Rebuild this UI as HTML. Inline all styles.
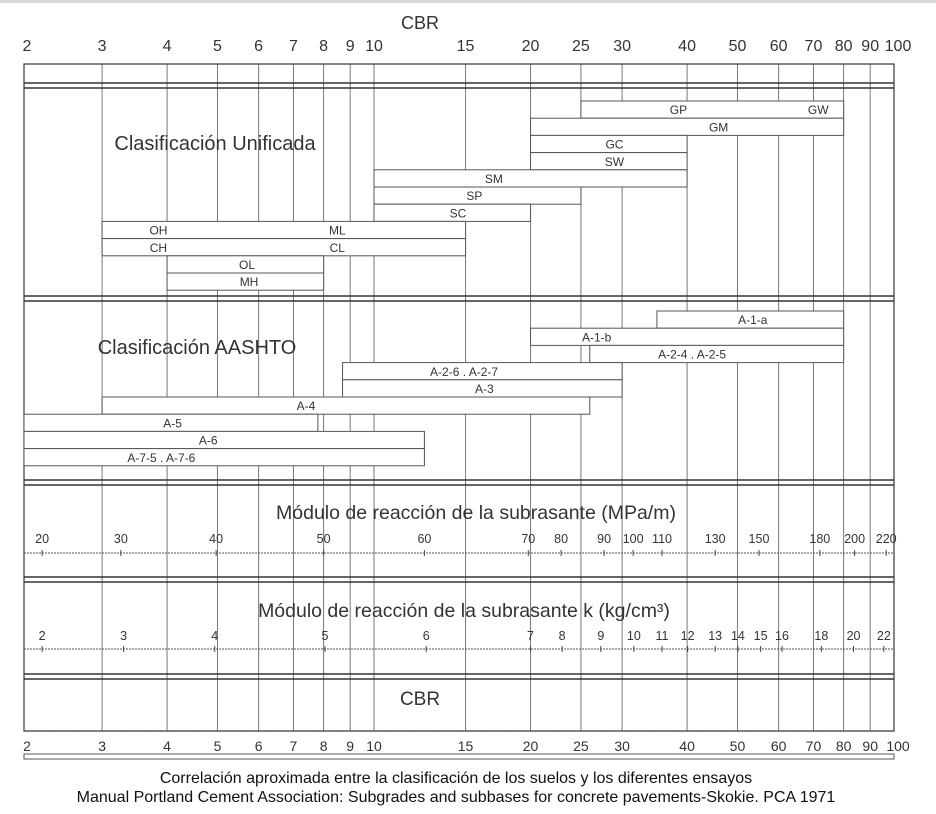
<!DOCTYPE html>
<html><head><meta charset="utf-8">
<style>
html,body{margin:0;padding:0;background:#fff;}
svg{display:block;font-family:"Liberation Sans",sans-serif;}
</style></head>
<body>
<svg id="chart" width="936" height="814" viewBox="0 0 936 814" xmlns="http://www.w3.org/2000/svg">
<rect x="0" y="0" width="936" height="3" fill="#d8d8d8"/>
<g id="grid"></g>
<g id="bars"></g>
<g id="axes"></g>
<g id="texts"></g>
</svg>
<script>
// ---- data ----
const cbrTicks = [3,4,5,6,7,8,9,10,15,20,25,30,40,50,60,70,80,90];
const cbrLabels = ["2","3","4","5","6","7","8","9","10","15","20","25","30","40","50","60","70","80","90","100"];
const cbrLabelValues = [2,3,4,5,6,7,8,9,10,15,20,25,30,40,50,60,70,80,90,100];

const unifiedNames = ["GP/GW","GM","GC","SW","SM","SP","SC","OH/ML","CH/CL","OL","MH"];
const unifiedStart = [25,20,20,20,10,10,10,3,3,4,4];
const unifiedEnd   = [80,80,40,40,40,25,20,15,15,8,8];
const unifiedLabels = [["GP",38.5,"GW",71.5],["GM",46],["GC",29],["SW",29],["SM",17],["SP",15.6],["SC",14.5],["OH",3.85,"ML",8.5],["CH",3.85,"CL",8.5],["OL",5.7],["MH",5.75]];

const aashtoNames = ["A-1-a","A-1-b","A-2-4 . A-2-5","A-2-6 . A-2-7","A-3","A-4","A-5","A-6","A-7-5 . A-7-6"];
const aashtoStart = [35,20,26,8.7,8.7,3,2,2,2];
const aashtoEnd   = [80,80,80,30,30,26,7.8,12.5,12.5];
const aashtoLabelAt = [53.5,26.8,40.9,14.9,16.3,7.4,4.1,4.8,3.9];

const mpaLabels = ["20","30","40","50","60","70","80","90","100","110","130","150","180","200","220"];
const mpaCbr = [2.3,3.26,4.97,8.0,12.5,19.8,22.9,27.7,31.5,35.8,45.3,55,72,84,96.6];
const kLabels = ["2","3","4","5","6","7","8","9","10","11","12","13","14","15","16","18","20","22"];
const kCbr = [2.3,3.3,4.94,8.05,12.6,20,23,27.3,31.6,35.8,40.1,45.3,50.1,55.4,60.9,72.5,83.6,95.6];

// ---- layout ----
const L = 24, R = 894, TOP = 64, BOT = 731;
function xs(v){ if (v<=2) return L; return 374 + (Math.log10(v)-1)*520; }
const NS = "http://www.w3.org/2000/svg";
function mk(tag, attrs, parent){ const e=document.createElementNS(NS,tag); for(const k in attrs) e.setAttribute(k,attrs[k]); document.getElementById(parent).appendChild(e); return e; }
function txt(parent, x, y, s, size, anchor, fill){ const t=mk("text",{x:x,y:y,"font-size":size,"text-anchor":anchor||"middle",fill:fill||"#333"},parent); t.textContent=s; return t; }

cbrTicks.forEach(v=>{
  const l = mk("line",{x1:xs(v),x2:xs(v),y1:TOP,y2:BOT,stroke:"#777","stroke-width":1},"grid");
  
  
});
let fr = mk("rect",{x:L,y:TOP,width:R-L,height:BOT-TOP,fill:"none",stroke:"#444","stroke-width":1.3},"grid");


[[83,88],[296,301],[480,485],[577,582],[674,679]].forEach((p,i)=>{
  p.forEach(y=>{
    const l = mk("line",{x1:L,x2:R,y1:y,y2:y,stroke:"#333","stroke-width":1.6},"grid");
    
    
  });
});
let sb = mk("rect",{x:L,y:754,width:R-L,height:5,fill:"#fff",stroke:"#555","stroke-width":1},"grid");



const unifiedTop = 101, rowH = 17.2;
function drawBar(name, a, b, y, h, labels){
  const g = mk("g",{},"bars");
  
  
  const x1 = xs(a), x2 = xs(b);
  const r = document.createElementNS(NS,"rect");
  r.setAttribute("x",x1); r.setAttribute("y",y); r.setAttribute("width",x2-x1); r.setAttribute("height",h);
  r.setAttribute("fill","#fff"); r.setAttribute("stroke","#555"); r.setAttribute("stroke-width","1");
  g.appendChild(r);
  for(let i=0;i<labels.length;i+=2){
    const t = document.createElementNS(NS,"text");
    t.setAttribute("x",xs(labels[i+1])); t.setAttribute("y",y+h-4); t.setAttribute("font-size","12");
    t.setAttribute("text-anchor","middle"); t.setAttribute("fill","#333");
    t.textContent = labels[i];
    g.appendChild(t);
  }
}
unifiedNames.forEach((n,i)=>{
  drawBar(n, unifiedStart[i], unifiedEnd[i], unifiedTop + i*rowH, rowH, unifiedLabels[i]);
});
const aTop = 311;
aashtoNames.forEach((n,i)=>{
  drawBar(n, aashtoStart[i], aashtoEnd[i], aTop + i*17.2, 17.2, [n, aashtoLabelAt[i]]);
});

cbrLabelValues.forEach((v,i)=>{
  let x = xs(v); if (v===2) x = L+3; if (v===100) x = 898;
  const t1 = txt("axes", x, 51, cbrLabels[i], 16);
  
  
  const t2 = txt("axes", x, 751, cbrLabels[i], 14);
  
  
});

let ml = mk("line",{x1:L,x2:R,y1:553,y2:553,stroke:"#555","stroke-width":1,"stroke-dasharray":"2,1"},"axes");


mpaLabels.forEach((s,i)=>{
  const x = xs(mpaCbr[i]);
  const t = txt("axes", x, 543, s, 12.5);
  
  
  const tk = mk("line",{x1:x,x2:x,y1:550,y2:556,stroke:"#444"},"axes");
  
  
});
let kl = mk("line",{x1:L,x2:R,y1:649,y2:649,stroke:"#555","stroke-width":1,"stroke-dasharray":"2,1"},"axes");


kLabels.forEach((s,i)=>{
  const x = xs(kCbr[i]);
  const t = txt("axes", x, 640, s, 12.5);
  
  
  const tk = mk("line",{x1:x,x2:x,y1:646,y2:652,stroke:"#444"},"axes");
  
  
});
let bl = mk("line",{x1:L,x2:R,y1:731,y2:731,stroke:"#555","stroke-width":1.2,"stroke-dasharray":"2,1"},"axes");



let t;
t = txt("texts", 420, 29, "CBR", 18);  
t = txt("texts", 215, 150, "Clasificación Unificada", 20);  
t = txt("texts", 197, 354, "Clasificación AASHTO", 20);  
t = txt("texts", 476, 519, "Módulo de reacción de la subrasante (MPa/m)", 19.5);  
t = txt("texts", 464, 617, "Módulo de reacción de la subrasante k (kg/cm³)", 19.5);  
t = txt("texts", 420, 705, "CBR", 19);  
t = txt("texts", 456, 783, "Correlación aproximada entre la clasificación de los suelos y los diferentes ensayos", 16, "middle", "#111");  
t = txt("texts", 456, 802, "Manual Portland Cement Association: Subgrades and subbases for concrete pavements-Skokie. PCA 1971", 16, "middle", "#111");  
</script>
</body></html>
